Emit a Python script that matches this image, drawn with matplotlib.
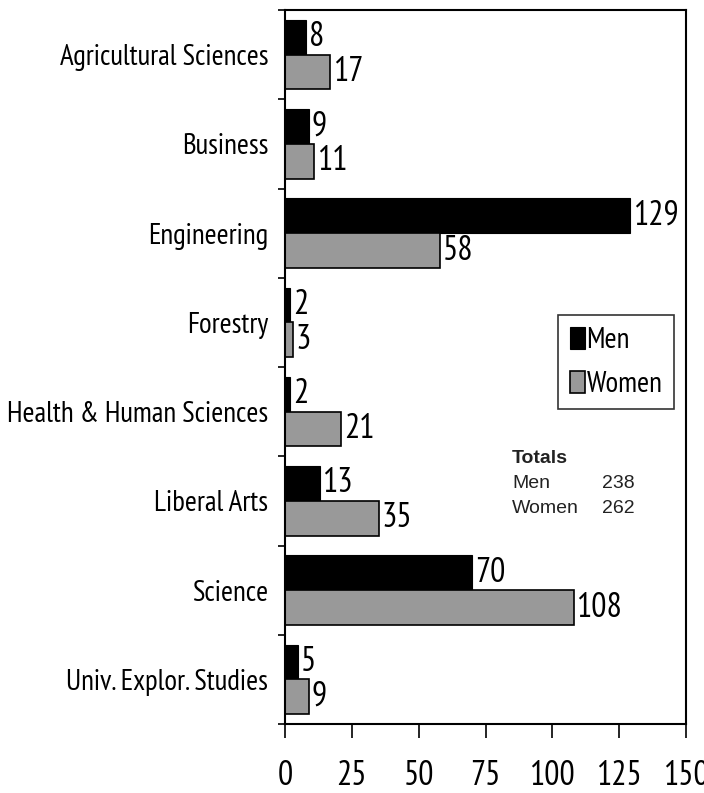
import matplotlib
matplotlib.use("Agg")
import matplotlib.pyplot as plt
import numpy as np
from matplotlib.ticker import FixedLocator
from matplotlib import font_manager as fm
from matplotlib.textpath import TextPath
from matplotlib.font_manager import FontProperties

categories = ["Agricultural Sciences", "Business", "Engineering", "Forestry",
              "Health & Human Sciences", "Liberal Arts", "Science", "Univ. Explor. Studies"]
men = [8, 9, 129, 2, 2, 13, 70, 5]
women = [17, 11, 58, 3, 21, 35, 108, 9]
xticks = [0, 25, 50, 75, 100, 125, 150]
totals_labels = ["Men", "Women"]
totals_values = [238, 262]

available = set(f.name for f in fm.fontManager.ttflist)
prefs = ["Liberation Sans Narrow", "Arial Narrow", "PT Sans Narrow", "Pragati Narrow",
         "Roboto Condensed", "Archivo Narrow", "Barlow Semi Condensed", "Fira Sans Condensed",
         "IBM Plex Sans Condensed", "Encode Sans Condensed", "Asap Condensed",
         "Sofia Sans Condensed", "Barlow Condensed", "Open Sans Condensed"]
cands = [p for p in prefs if p in available]


def ext(s, fam):
    return TextPath((0, 0), s, size=1, prop=FontProperties(family=fam)).get_extents()


target_ratio = 207 / 21.0
best, best_err = None, 1e9
for c in cands:
    try:
        r = ext("Agricultural Sciences", c).width / ext("H", c).height
    except Exception:
        continue
    err = abs(r / target_ratio - 1)
    if err < 0.07:
        best = c
        break
    if err < best_err:
        best, best_err = c, err
narrow = ([best] if best else []) + ["DejaVu Sans"]
plt.rcParams['font.family'] = narrow
arial = ["Liberation Sans", "DejaVu Sans"]
fam = narrow[0]

PX = 100 / 72.0  # pixels per point


def size_for_height(s, px):
    return px / ext(s, fam).height / PX


def size_for_width(s, px):
    return px / ext(s, fam).width / PX


cat_fs = min(size_for_height("H", 21), size_for_width("Health & Human Sciences", 258))
val_fs = min(size_for_height("0", 25), size_for_width("129", 42))
leg_fs = min(size_for_height("M", 22), size_for_width("Women", 74))
tot_fs = 14

fig = plt.figure(figsize=(7.04, 7.93), dpi=100)
ax = fig.add_axes([285/704, 1-724/793, (686-285)/704, (724-10)/793])

n = len(categories)
y = np.arange(n)
h = 0.39
ax.barh(y - h/2, men, height=h, color="black", edgecolor="black", linewidth=0.8, label="Men")
ax.barh(y + h/2, women, height=h, color="#999999", edgecolor="black", linewidth=1.2, label="Women")

for yi, v in zip(y, men):
    ax.annotate(str(v), (v, yi - h/2), xytext=(2, 0), textcoords="offset points",
                va="center", ha="left", fontsize=val_fs)
for yi, v in zip(y, women):
    ax.annotate(str(v), (v, yi + h/2), xytext=(2, 0), textcoords="offset points",
                va="center", ha="left", fontsize=val_fs)

ax.set_xlim(0, 150)
ax.set_ylim(n - 0.5, -0.5)
ax.set_xticks(xticks)
ax.set_xticklabels([str(t) for t in xticks], fontsize=val_fs)
ax.set_yticks(y)
ax.set_yticklabels(categories, fontsize=cat_fs)
ax.yaxis.set_minor_locator(FixedLocator(np.arange(-0.5, n, 1.0)))
ax.tick_params(axis="y", which="major", length=0, pad=12)
ax.tick_params(axis="y", which="minor", length=5, width=1.2, direction="out")
ax.tick_params(axis="x", length=10, width=1.2, direction="out", pad=16)
for s in ax.spines.values():
    s.set_linewidth(1.5)

fpx = leg_fs * PX
leg = ax.legend(loc="upper left", bbox_to_anchor=((558-285)/401, 1-(315-10)/714),
                fontsize=leg_fs, frameon=True, fancybox=False, edgecolor="black",
                handlelength=15/fpx, handleheight=23/fpx, handletextpad=2/fpx,
                borderpad=0.4, labelspacing=17/fpx, borderaxespad=0)
leg.get_frame().set_linewidth(1.2)

x0, x1 = 85.0, 118.5
ax.text(x0, 4.52, "Totals", fontsize=tot_fs, fontweight="bold",
        family=arial, va="center", ha="left", color="#222222")
for i, (lab, val) in enumerate(zip(totals_labels, totals_values)):
    yy = 4.80 + i * 0.28
    ax.text(x0, yy, lab, fontsize=tot_fs, family=arial, va="center", ha="left", color="#222222")
    ax.text(x1, yy, str(val), fontsize=tot_fs, family=arial, va="center", ha="left", color="#222222")

fig.savefig("out.png", dpi=100)
